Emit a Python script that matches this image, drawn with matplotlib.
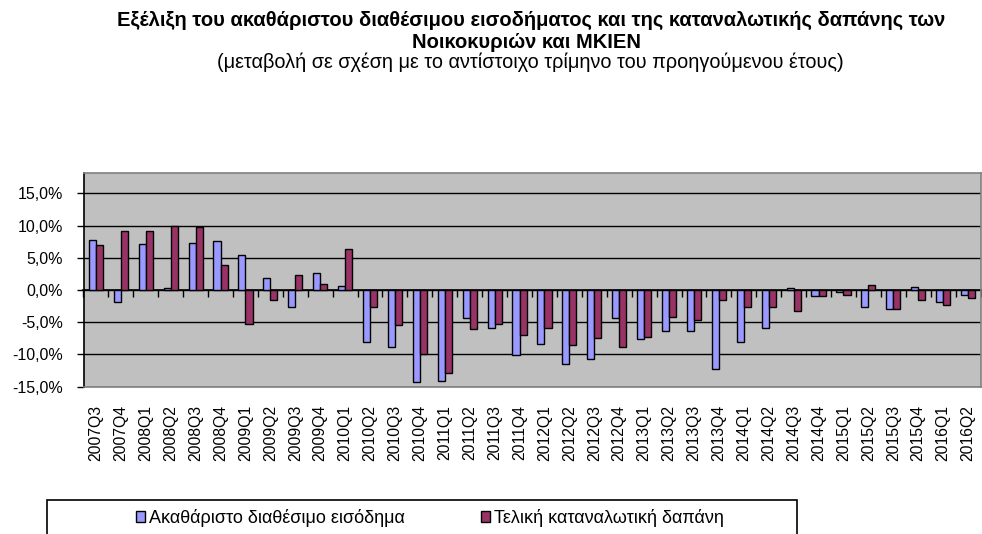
import numpy as np
import matplotlib
matplotlib.use("Agg")
import matplotlib.pyplot as plt
from matplotlib.patches import Rectangle
from matplotlib.ticker import FuncFormatter

plt.rcParams['font.family'] = ['Liberation Sans', 'DejaVu Sans']

# quarters 2007Q3 .. 2016Q2
quarters = ['2007Q3', '2007Q4', '2008Q1', '2008Q2', '2008Q3', '2008Q4',
            '2009Q1', '2009Q2', '2009Q3', '2009Q4', '2010Q1', '2010Q2',
            '2010Q3', '2010Q4', '2011Q1', '2011Q2', '2011Q3', '2011Q4',
            '2012Q1', '2012Q2', '2012Q3', '2012Q4', '2013Q1', '2013Q2',
            '2013Q3', '2013Q4', '2014Q1', '2014Q2', '2014Q3', '2014Q4',
            '2015Q1', '2015Q2', '2015Q3', '2015Q4', '2016Q1', '2016Q2']

# % change vs same quarter of previous year
income = [7.8, -1.9, 7.1, 0.3, 7.3, 7.6,
          5.5, 1.8, -2.6, 2.6, 0.6, -8.1,
          -8.8, -14.3, -14.1, -4.3, -5.9, -10.1,
          -8.3, -11.5, -10.7, -4.3, -7.6, -6.3,
          -6.3, -12.3, -8.1, -5.9, 0.3, -1.0,
          -0.3, -2.6, -2.9, 0.5, -1.8, -0.8]
consumption = [7.0, 9.2, 9.2, 9.9, 9.7, 3.9,
               -5.2, -1.6, 2.3, 1.0, 6.3, -2.6,
               -5.5, -10.0, -12.8, -6.0, -5.2, -7.0,
               -5.9, -8.5, -7.5, -8.8, -7.3, -4.2,
               -4.7, -1.6, -2.6, -2.6, -3.2, -1.0,
               -0.8, 0.8, -2.9, -1.6, -2.3, -1.3]

labels = ['Ακαθάριστο διαθέσιμο εισόδημα', 'Τελική καταναλωτική δαπάνη']

W, H = 982, 534
fig = plt.figure(figsize=(W / 100, H / 100), dpi=100)
ax = fig.add_axes([83.5 / W, 1 - 386.7 / H, (980.5 - 83.5) / W, (386.7 - 172.7) / H])
ax.set_facecolor('#C0C0C0')

x = np.arange(len(quarters))
bw = 0.285
inc = np.array(income) / 100
con = np.array(consumption) / 100
b1 = ax.bar(x - bw / 2, inc, bw, color='#9999FF', edgecolor='black', linewidth=1, zorder=3)
b2 = ax.bar(x + bw / 2, con, bw, color='#993366', edgecolor='black', linewidth=1, zorder=3)

ymin, ymax = -0.15, 0.182
ax.set_ylim(ymin, ymax)
ax.set_xlim(-0.5, len(quarters) - 0.5)
ax.set_yticks(np.arange(-0.15, 0.151, 0.05))
ax.yaxis.set_major_formatter(FuncFormatter(lambda v, _: f"{v * 100:.1f}%".replace('.', ',')))
ax.grid(axis='y', color='black', linewidth=1, zorder=1)
ax.set_axisbelow(True)
ax.tick_params(axis='y', length=5, width=1, direction='out', labelsize=11.5, pad=10)

ax.set_xticks(x)
ax.set_xticklabels(quarters, rotation=90, fontsize=11.3)
ax.tick_params(axis='x', length=0, pad=13)

for s in ['top', 'right', 'bottom']:
    ax.spines[s].set_color('#808080')
    ax.spines[s].set_linewidth(1.2)
ax.spines['left'].set_color('black')
ax.spines['left'].set_linewidth(1.2)

# category axis crossing at zero, with tick marks between categories
sec = ax.secondary_xaxis((0 - ymin) / (ymax - ymin))
sec.set_xticks(np.arange(-0.5, len(quarters), 1.0))
sec.tick_params(axis='x', length=5, width=1, direction='out', labelbottom=False, color='black')
sec.spines['bottom'].set_color('black')
sec.spines['bottom'].set_linewidth(1.2)

fig.text(531 / W, 1 - 20.5 / H,
         'Εξέλιξη του ακαθάριστου διαθέσιμου εισοδήματος και της καταναλωτικής δαπάνης των',
         ha='center', va='center', fontsize=14.5, fontweight='bold')
fig.text(527 / W, 1 - 42 / H, 'Νοικοκυριών και ΜΚΙΕΝ',
         ha='center', va='center', fontsize=14.5, fontweight='bold')
fig.text(530 / W, 1 - 62 / H,
         '(μεταβολή σε σχέση με το αντίστοιχο τρίμηνο του προηγούμενου έτους)',
         ha='center', va='center', fontsize=14.3)

# legend box (cut at bottom edge like the original)
fig.add_artist(Rectangle((47 / W, -0.05), (797 - 47) / W, 0.05 + 1 - 500 / H,
                         transform=fig.transFigure, fill=False,
                         edgecolor='black', linewidth=1.2))
fig.legend([b1, b2], labels, ncol=2, loc='center',
           bbox_to_anchor=(430 / W, 1 - 518 / H), frameon=False,
           fontsize=13, handlelength=0.5, handleheight=0.5,
           handletextpad=0.25, columnspacing=4.2)

fig.savefig('out.png', dpi=100)
